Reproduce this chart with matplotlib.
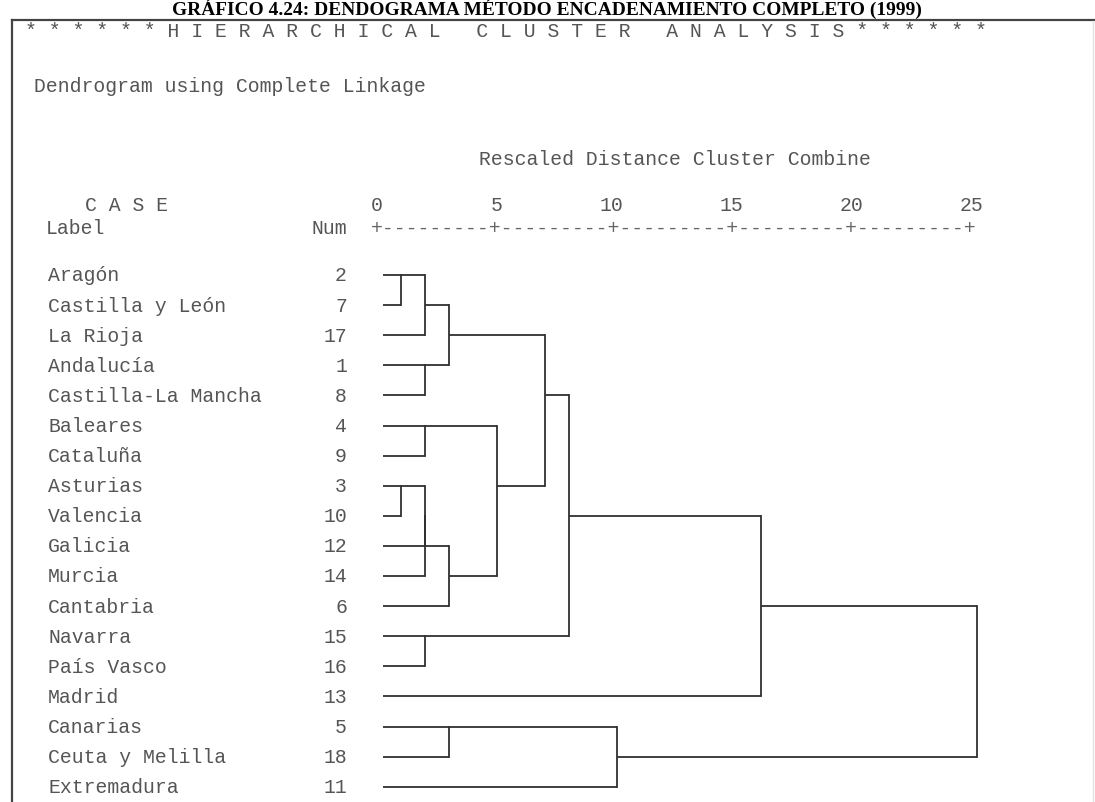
import matplotlib
matplotlib.use("Agg")
import matplotlib.pyplot as plt
from matplotlib.lines import Line2D
import matplotlib.transforms as mtrans

# ---------------- data ----------------
title = "GRÁFICO 4.24: DENDOGRAMA MÉTODO ENCADENAMIENTO COMPLETO (1999)"
header = ("* * * * * * H I E R A R C H I C A L   C L U S T E R   "
          "A N A L Y S I S * * * * * *")
subtitle = "Dendrogram using Complete Linkage"
axis_title = "Rescaled Distance Cluster Combine"

labels = ["Aragón", "Castilla y León", "La Rioja", "Andalucía",
          "Castilla-La Mancha", "Baleares", "Cataluña", "Asturias",
          "Valencia", "Galicia", "Murcia", "Cantabria", "Navarra",
          "País Vasco", "Madrid", "Canarias", "Ceuta y Melilla",
          "Extremadura"]
case_nums = [2, 7, 17, 1, 8, 4, 9, 3, 10, 12, 14, 6, 15, 16, 13, 5, 18, 11]

# agglomeration schedule (clusters named by a case number), rescaled distance
merge_a = [2, 3, 2, 1, 4, 3, 3, 15, 2, 3, 5, 4, 2, 2, 5, 2, 2]
merge_b = [7, 10, 17, 8, 9, 12, 14, 16, 1, 6, 18, 3, 4, 15, 11, 13, 5]
merge_dist = [1, 1, 2, 2, 2, 2, 2, 2, 3, 3, 3, 5, 7, 8, 10, 16, 25]

tick_values = [0, 5, 10, 15, 20, 25]

# ---------------- layout ----------------
W, H = 1095, 803
fig = plt.figure(figsize=(W / 100, H / 100), dpi=100)
fig.patch.set_facecolor("white")
ax = fig.add_axes([0, 0, 1, 1])
ax.set_axis_off()

X0, XS = 377.0, 24.0      # pixel of distance 0, pixels per unit
Y0, YS = 276.0, 30.1      # pixel of first row, pixels per row
ax.set_xlim(-X0 / XS, (W - X0) / XS)
ax.set_ylim((H - Y0) / YS, -Y0 / YS)


def px_x(px):
    return (px - X0) / XS


def px_y(py):
    return (py - Y0) / YS


MONO = "Liberation Mono"
FS = 14.2
TXT = "#555555"
LINE = "#303030"
LW = 1.3
LEAF_START = 0.25

# ---------------- frame ----------------
BY = 21
fig.add_artist(Line2D([12 / W, 1.0], [1 - BY / H, 1 - BY / H],
                      transform=fig.transFigure, color="#444444", lw=1.6))
fig.add_artist(Line2D([12 / W, 12 / W], [0, 1 - BY / H],
                      transform=fig.transFigure, color="#444444", lw=1.6))
fig.add_artist(Line2D([1093 / W, 1093 / W], [0, 1 - (BY + 1) / H],
                      transform=fig.transFigure, color="#e2e2e2", lw=1.0))

# ---------------- title (fit width) ----------------
t = fig.text(547 / W, 1 - 11 / H, title, ha="center", va="baseline",
             family="Liberation Serif", weight="bold", fontsize=14,
             color="black")
fig.canvas.draw()
w = t.get_window_extent().width
t.set_fontsize(14 * 752 / w)
t.set_position((547 / W, 1 - 15 / H))

# ---------------- header texts ----------------
ax.text(px_x(25), px_y(32), header, family=MONO, fontsize=FS, color=TXT,
        ha="left", va="center")
ax.text(px_x(34), px_y(87), subtitle, family=MONO, fontsize=FS, color=TXT,
        ha="left", va="center")
ax.text(px_x(675), px_y(160), axis_title, family=MONO, fontsize=FS,
        color=TXT, ha="center", va="center")
ax.text(px_x(127), px_y(206), "C A S E", family=MONO, fontsize=FS,
        color=TXT, ha="center", va="center")
ax.text(px_x(46), px_y(229), "Label", family=MONO, fontsize=FS, color=TXT,
        ha="left", va="center")
ax.text(px_x(347), px_y(229), "Num", family=MONO, fontsize=FS, color=TXT,
        ha="right", va="center")

# tick numbers and ascii axis
shift_r = ax.transData + mtrans.ScaledTranslation(6 / 100, 0,
                                                   fig.dpi_scale_trans)
shift_l = ax.transData + mtrans.ScaledTranslation(-6 / 100, 0,
                                                  fig.dpi_scale_trans)
for v in tick_values:
    ax.text(v, px_y(206), str(v), family=MONO, fontsize=FS, color=TXT,
            ha="right", va="center", transform=shift_r)
seg = "-" * 9
axis_str = "+" + "+".join([seg] * (len(tick_values) - 1)) + "+"
ax.text(tick_values[0], px_y(229), axis_str, family=MONO, fontsize=FS,
        color="#666666", ha="left", va="center", transform=shift_l)

# ---------------- leaves ----------------
for i, (lab, num) in enumerate(zip(labels, case_nums)):
    ax.text(px_x(48), i, lab, family=MONO, fontsize=FS, color=TXT,
            ha="left", va="center")
    ax.text(px_x(347), i, str(num), family=MONO, fontsize=FS, color=TXT,
            ha="right", va="center")

# ---------------- dendrogram ----------------
row = {n: i for i, n in enumerate(case_nums)}
xpos = {n: LEAF_START for n in case_nums}
for a, b, d in zip(merge_a, merge_b, merge_dist):
    ra, rb = row[a], row[b]
    ax.plot([xpos[a], d], [ra, ra], color=LINE, lw=LW, solid_capstyle="butt")
    ax.plot([xpos[b], d], [rb, rb], color=LINE, lw=LW, solid_capstyle="butt")
    ax.plot([d, d], [ra, rb], color=LINE, lw=LW, solid_capstyle="projecting")
    row[a] = (ra + rb) // 2
    xpos[a] = d

fig.savefig("out.png", dpi=100, facecolor="white")
